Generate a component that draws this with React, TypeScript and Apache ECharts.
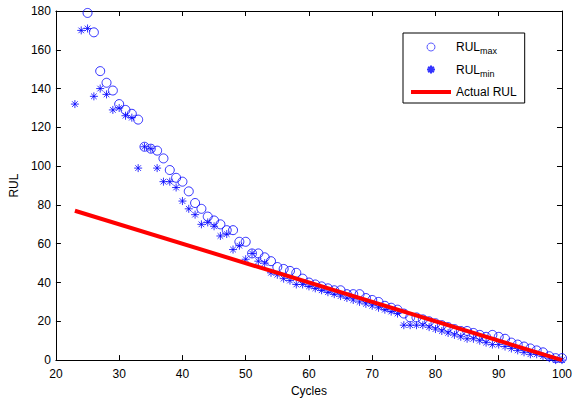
import React, { useEffect, useRef } from "react";
import * as echarts from "echarts";

const cycles = [23, 24, 25, 26, 27, 28, 29, 30, 31, 32, 33, 34, 35, 36, 37, 38, 39, 40, 41, 42, 43, 44, 45, 46, 47, 48, 49, 50, 51, 52, 53, 54, 55, 56, 57, 58, 59, 60, 61, 62, 63, 64, 65, 66, 67, 68, 69, 70, 71, 72, 73, 74, 75, 76, 77, 78, 79, 80, 81, 82, 83, 84, 85, 86, 87, 88, 89, 90, 91, 92, 93, 94, 95, 96, 97, 98, 99, 100];

const rulMax = [null, null, 179, 169, 149, 143, 139, 132, 129, 127, 124, 110, 109, 108, 104, 98, 94, 92, 87, 81, 78, 74, 72, 70, 67, 67, 61, 61, 55, 55, 53, 51, 48, 47, 46, 45, 42, 40, 39, 38, 37, 36, 36, 34, 34, 34, 32, 31, 30, 28, 27, 26, 24, 22, 22, 21, 20, 19, 18, 17, 16, 15, 15, 14, 13, 12, 13, 12, 11, 9, 8, 7, 6, 5, 4, 2, 1, 1];

const rulMin = [132, 170, 171, 136, 140, 137, 129, 130, 126, 125, 99, 110, 109, 99, 92, 92, 89, 82, 78, 75, 70, 71, 69, 64, 65, 57, 59, 52, 55, 51, 50, 45, 44, 42, 41, 39, 39, 38, 37, 36, 35, 34, 33, 32, 31, 30, 29, 28, 27, 26, 25, 24, 18, 18, 18, 18, 17, 16, 15, 14, 13, 12, 11, 11, 10, 9, 8, 8, 7, 6, 5, 4, 3, 3, 2, 1, 0, 0];

const actualCycles = [23, 100];
const actualRul = [77, 0];

const FONT = "Liberation Sans, Arial, sans-serif";
const STAR = "path://M0,5L10,5M5,0L5,10M1.5,1.5L8.5,8.5M8.5,1.5L1.5,8.5";
const BAR = "path://M0,0L40,0L40,4L0,4Z";

export default function App() {
  const ref = useRef<HTMLDivElement>(null);
  useEffect(() => {
    if (!ref.current) return;
    const chart = echarts.init(ref.current, undefined, { renderer: "svg" });
    const maxData = cycles.map((c, i) => [c, rulMax[i]]).filter((d) => d[1] !== null);
    const minData = cycles.map((c, i) => [c, rulMin[i]]);
    const actData = actualCycles.map((c, i) => [c, actualRul[i]]);
    const axisCommon = {
      axisLine: { show: true, onZero: false, lineStyle: { color: "#000", width: 1 } },
      axisTick: { show: true, inside: true, length: 5, lineStyle: { color: "#000" } },
      splitLine: { show: false },
    };
    chart.setOption({
      animation: false,
      backgroundColor: "#fff",
      textStyle: { fontFamily: FONT },
      grid: { left: 53, right: 9, top: 11, bottom: 40, containLabel: false },
      xAxis: [
        {
          type: "value",
          min: 20,
          max: 100,
          interval: 10,
          name: "Cycles",
          nameLocation: "middle",
          nameGap: 22,
          nameTextStyle: { fontSize: 12, color: "#000", fontFamily: FONT },
          axisLabel: { fontSize: 12, color: "#000", margin: 8, fontFamily: FONT },
          ...axisCommon,
        },
        {
          type: "value",
          position: "top",
          min: 20,
          max: 100,
          interval: 10,
          axisLabel: { show: false },
          ...axisCommon,
        },
      ],
      yAxis: [
        {
          type: "value",
          min: 0,
          max: 180,
          interval: 20,
          name: "RUL",
          nameLocation: "middle",
          nameGap: 32,
          nameTextStyle: { fontSize: 12, color: "#000", fontFamily: FONT },
          axisLabel: { fontSize: 12, color: "#000", margin: 5, fontFamily: FONT },
          ...axisCommon,
        },
        {
          type: "value",
          position: "right",
          min: 0,
          max: 180,
          interval: 20,
          axisLabel: { show: false },
          ...axisCommon,
        },
      ],
      legend: {
        orient: "vertical",
        left: 403,
        top: 33,
        width: 127,
        padding: [8, 8, 5, 8],
        itemGap: 8,
        itemWidth: 40,
        itemHeight: 8,
        borderColor: "#000",
        borderWidth: 1,
        backgroundColor: "#fff",
        textStyle: {
          fontSize: 12,
          color: "#000",
          fontFamily: FONT,
          rich: {
            n: { fontSize: 12, color: "#000", fontFamily: FONT },
            s: { fontSize: 9, color: "#000", fontFamily: FONT, padding: [8, 0, 0, 0] },
          },
        },
        formatter: (name: string) => {
          if (name === "RULmax") return "{n|RUL}{s|max}";
          if (name === "RULmin") return "{n|RUL}{s|min}";
          return "{n|" + name + "}";
        },
        data: [
          { name: "RULmax", itemStyle: { borderWidth: 0.8 } },
          { name: "RULmin" },
          { name: "Actual RUL", icon: BAR },
        ],
      },
      series: [
        {
          name: "Actual RUL",
          type: "line",
          data: actData,
          symbol: "none",
          lineStyle: { color: "#ff0000", width: 4 },
          itemStyle: { color: "#ff0000" },
          z: 3,
        },
        {
          name: "RULmax",
          type: "scatter",
          data: maxData,
          symbol: "circle",
          symbolSize: 9,
          itemStyle: { color: "transparent", borderColor: "#0000ff", borderWidth: 1 },
          z: 2,
        },
        {
          name: "RULmin",
          type: "scatter",
          data: minData,
          symbol: STAR,
          symbolSize: 8,
          itemStyle: { color: "#0000ff", borderColor: "#0000ff", borderWidth: 1 },
          z: 2,
        },
      ],
    });
    return () => chart.dispose();
  }, []);
  return (
    <div
      ref={ref}
      style={{ position: "fixed", left: 0, top: 0, width: 575, height: 402, background: "#fff" }}
    />
  );
}
